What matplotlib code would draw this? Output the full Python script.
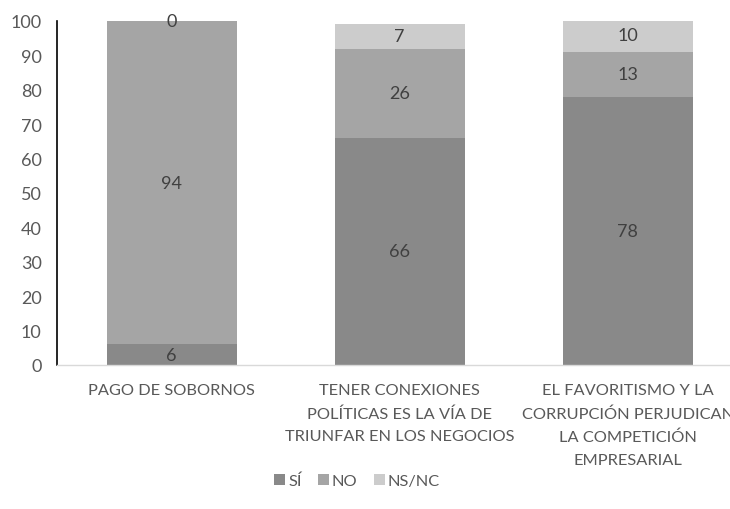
import matplotlib
matplotlib.use("Agg")
import matplotlib.pyplot as plt
import numpy as np

categories = ["PAGO DE SOBORNOS",
              "TENER CONEXIONES\nPOLÍTICAS ES LA VÍA DE\nTRIUNFAR EN LOS NEGOCIOS",
              "EL FAVORITISMO Y LA\nCORRUPCIÓN PERJUDICAN\nLA COMPETICIÓN\nEMPRESARIAL"]
series_names = ["SÍ", "NO", "NS/NC"]
si = [6, 66, 78]
no = [94, 26, 13]
nsnc = [0, 7, 10]
yticks = list(range(0, 101, 10))

colors = ["#898989", "#a5a5a5", "#cccccc"]
txt = "#595959"
fs_num = 13
fs_lab = 11.8
plt.rcParams['font.family'] = ['Lato', 'DejaVu Sans']

fig = plt.figure(figsize=(7.3, 5.1), dpi=100)
ax = fig.add_axes([57/730, (510-366)/510, (730-57)/730, (366-22)/510])

x = np.arange(len(categories))
bottom = np.zeros(len(categories))
for name, vals, c in zip(series_names, [si, no, nsnc], colors):
    vals = np.array(vals, dtype=float)
    ax.bar(x, vals, 0.57, bottom=bottom, color=c, label=name, zorder=2)
    for xi, b, v in zip(x, bottom, vals):
        ax.text(xi, b + v/2, f"{int(v)}", ha="center", va="center",
                fontsize=fs_num, color="#404040", zorder=3)
    bottom += vals

ax.set_xlim(-0.503, 2.449)
ax.set_ylim(0, 100)
ax.set_yticks(yticks)
ax.set_xticks(x)
ax.set_xticklabels(categories, fontsize=fs_lab, color=txt, linespacing=1.78, va="top")
ax.tick_params(axis="y", length=0, labelsize=fs_num, labelcolor=txt, pad=11)
ax.tick_params(axis="x", length=0, pad=13)
for s in ["top", "right"]:
    ax.spines[s].set_visible(False)
ax.spines["left"].set_color("black")
ax.spines["left"].set_linewidth(1.2)
ax.spines["bottom"].set_color("#d9d9d9")
ax.spines["bottom"].set_linewidth(1.0)

leg = fig.legend(loc="center", bbox_to_anchor=(357/730, 1 - 482/510), ncol=3, frameon=False,
                 fontsize=fs_lab, handlelength=0.65, handleheight=0.65, handletextpad=0.2,
                 columnspacing=1.0)
for t in leg.get_texts():
    t.set_color(txt)

fig.savefig("out.png", dpi=100)
